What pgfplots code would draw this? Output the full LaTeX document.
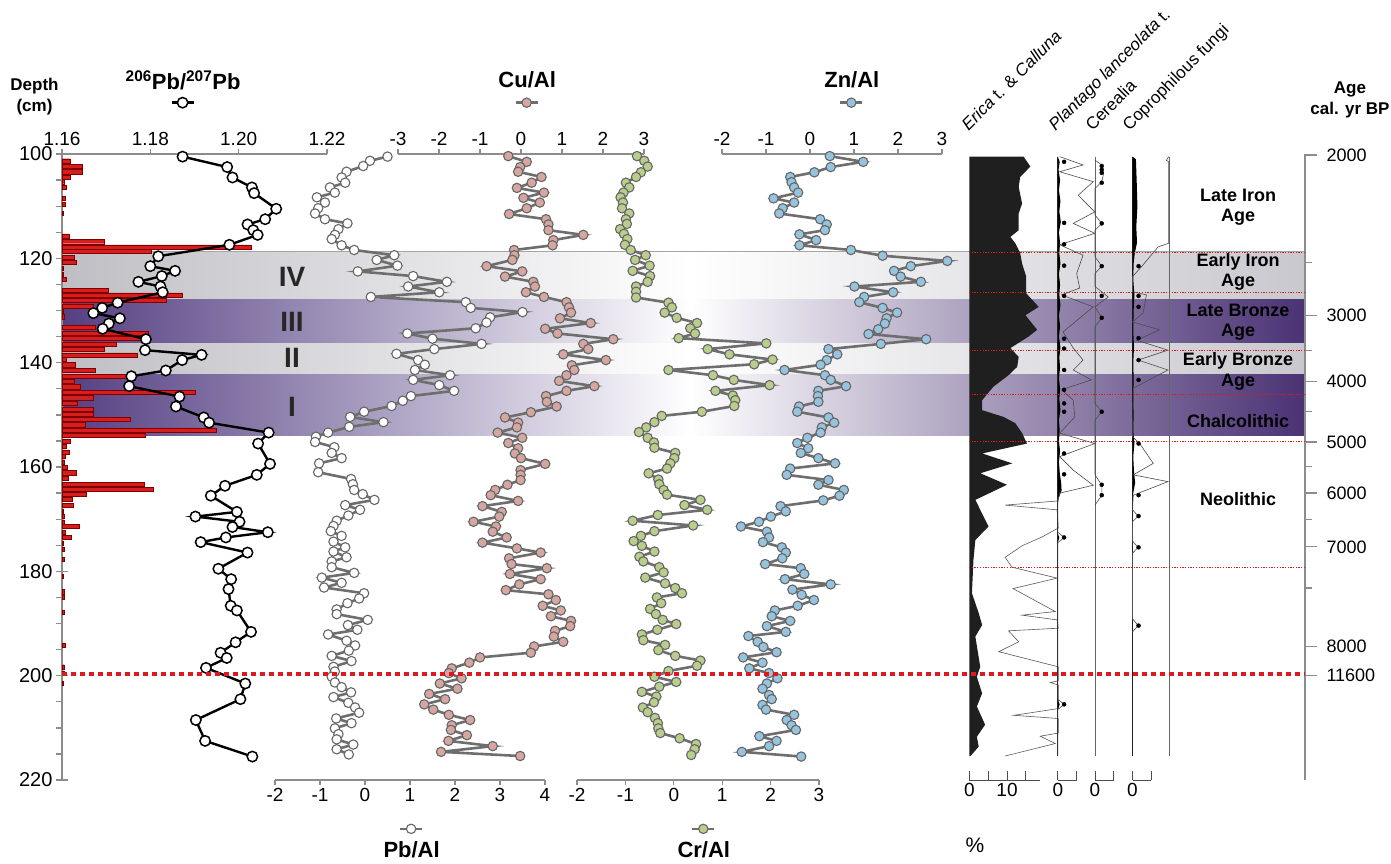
\documentclass[border=0pt]{standalone}
\usepackage{pgfplots}
\pgfplotsset{compat=1.18}
\usepackage{fontspec}
\setmainfont{Liberation Sans}
\definecolor{pur}{RGB}{84,63,130}
\definecolor{purR}{RGB}{74,50,116}
\definecolor{gryL}{RGB}{190,190,196}
\definecolor{gryR}{RGB}{200,200,206}
\definecolor{axgray}{RGB}{140,140,140}
\definecolor{lngray}{RGB}{110,110,110}
\definecolor{cupink}{RGB}{214,166,160}
\definecolor{crgreen}{RGB}{186,206,140}
\definecolor{znblue}{RGB}{150,196,222}
\definecolor{barred}{RGB}{214,30,30}
\definecolor{dred}{RGB}{222,25,30}
\tikzset{ttl/.style={font=\fontsize{22}{26}\selectfont\bfseries}}
\pgfplotsset{
 legend image code/.code={\draw[mark repeat=2,mark phase=2,#1] plot coordinates {(0pt,0pt) (11pt,0pt) (22pt,0pt)};},
 base/.style={scale only axis, ymin=100, ymax=220, y dir=reverse, height=626pt, clip=false, anchor=north west,
   axis line style={-, axgray, line width=1.5pt}, tick style={axgray, line width=1.3pt}, tick align=outside, major tick length=5pt,
   ticklabel style={font=\fontsize{19}{22}\selectfont, text=black},
   legend style={draw=none, fill=none, inner sep=0pt, outer sep=0pt, anchor=center, nodes={inner sep=0pt, outer sep=0pt}}},
 hidden/.style={base, axis x line=none, axis y line=none},
 series/.style={line width=2.6pt, color=lngray, mark=*, mark size=4.7pt, mark options={line width=1.1pt, draw=black!60, fill=#1}},
 pollen/.style={base, axis x line*=bottom, axis y line=none, tick align=inside, major tick length=9.5pt,
   axis line style={-, black!70, line width=0.8pt}, tick style={black!70, line width=0.8pt}},
}
\begin{document}
\begin{tikzpicture}
\useasboundingbox (0pt,0pt) rectangle (1391pt,-863pt);

% ---------- background bands ----------
\begin{axis}[hidden, at={(62pt,-154pt)}, width=1243pt, xmin=62, xmax=1305]
\path[left color=gryL, right color=white] (axis cs:62,118.7) rectangle (axis cs:690.5,127.85);
\path[left color=white, right color=gryR] (axis cs:690,118.7) rectangle (axis cs:1305,127.85);
\path[left color=pur, right color=white] (axis cs:62,127.85) rectangle (axis cs:690.5,136.4);
\path[left color=white, right color=purR] (axis cs:690,127.85) rectangle (axis cs:1305,136.4);
\path[left color=gryL, right color=white] (axis cs:62,136.4) rectangle (axis cs:690.5,142.2);
\path[left color=white, right color=gryR] (axis cs:690,136.4) rectangle (axis cs:1305,142.2);
\path[left color=pur, right color=white] (axis cs:62,142.2) rectangle (axis cs:690.5,153.9);
\path[left color=white, right color=purR] (axis cs:690,142.2) rectangle (axis cs:1305,153.9);
\draw[black!35, line width=0.8pt] (axis cs:62,118.7) -- (axis cs:1305,118.7);
\node[font=\fontsize{28}{30}\selectfont\bfseries, text=black!85] at (axis cs:292,123.6) {IV};
\node[font=\fontsize{28}{30}\selectfont\bfseries, text=black!85] at (axis cs:292,132.1) {III};
\node[font=\fontsize{28}{30}\selectfont\bfseries, text=black!85] at (axis cs:292,139.1) {II};
\node[font=\fontsize{28}{30}\selectfont\bfseries, text=black!85] at (axis cs:292,148.4) {I};
\end{axis}

% ---------- depth axis ----------
\begin{axis}[base, at={(62pt,-154pt)}, width=265pt, xmin=0, xmax=1, axis x line=none, axis y line*=left,
  y axis line style={line width=2.2pt}, ytick={100,120,140,160,180,200,220}, yticklabels={100,120,140,160,180,200,220},
  minor ytick={105,110,115,125,130,135,145,150,155,165,170,175,185,190,195,205,210,215},
  tick align=center, major tick length=12pt, minor tick length=6pt, minor tick style={xshift=-3pt},
  yticklabel style={font=\fontsize{20}{23}\selectfont}]
\end{axis}

% ---------- red bars ----------
\begin{axis}[hidden, at={(62pt,-154pt)}, width=265pt, xmin=0, xmax=265]
\addplot[xbar, bar width=0.8, fill=barred, draw=red!50!black, line width=0.4pt] coordinates {
(8,101.3) (20,102.4) (20,103.4) (8,104.4) (2,105.3) (4,106.4) (3,108.5) (3,109.6) (1,111.3)
(7,115.7) (42,116.8) (189,117.8) (89,118.7) (12,119.8) (14,120.8) (1,121.9) (1,123.0) (4,124.0)
(46,126.1) (120,127.0) (104,128.1) (31,129.1) (1,130.1) (2,131.2) (33,133.2) (86,134.3) (79,135.3)
(54,136.4) (42,137.4) (75,138.5) (4,139.4) (13,140.4) (33,141.5) (66,142.6) (12,143.6) (18,144.6)
(133,145.7) (31,146.7) (15,147.8) (31,148.9) (31,149.8) (68,150.9) (23,151.9) (154,152.9) (83,153.9)
(8,155.0) (4,156.0) (7,157.1) (3,158.0) (2,159.0) (5,160.1) (14,161.1) (6,162.2) (82,163.3) (91,164.3)
(24,165.2) (10,166.2) (11,167.3) (1,168.4) (2,169.4) (2,170.5) (17,171.4) (3,172.5) (9,173.5) (1,174.6)
(2,175.7) (2,177.7) (1,180.9) (2,183.9) (2,184.9) (2,187.9) (3,194.1) (2,198.3) (2,199.5) (1,201.5)};
\end{axis}

% ---------- 206Pb/207Pb ----------
\begin{axis}[base, at={(62pt,-154pt)}, width=265pt, xmin=1.16, xmax=1.22, axis x line*=top, axis y line=none,
  xtick={1.16,1.18,1.20,1.22}, xticklabels={1.16,1.18,1.20,1.22}, legend style={at={(0.457,1.082)}}]
\addplot[black, line width=2.4pt, mark=*, mark size=5.2pt, mark options={fill=white, draw=black, line width=1.5pt}] coordinates {
(1.1873,100.5) (1.1974,102.5) (1.1986,104.5) (1.2030,106.4) (1.2035,107.5) (1.2085,110.5) (1.2060,112.5) (1.2020,113.5)
(1.2033,114.6) (1.2043,115.5) (1.1979,117.4) (1.1818,119.6) (1.1800,121.5) (1.1856,122.4) (1.1826,123.4) (1.1773,124.5)
(1.1823,125.4) (1.1828,126.5) (1.1726,128.5) (1.1691,129.5) (1.1671,130.5) (1.1731,131.5) (1.1706,132.5) (1.1692,133.5)
(1.1790,135.5) (1.1788,137.6) (1.1916,138.5) (1.1872,139.5) (1.1835,141.5) (1.1757,142.6) (1.1752,144.5) (1.1866,146.5)
(1.1858,148.4) (1.1921,150.5) (1.1933,151.5) (1.2068,153.4) (1.2044,155.5) (1.2071,159.4) (1.2041,161.5) (1.1969,163.6)
(1.1937,165.5) (1.1996,168.6) (1.1902,169.5) (1.2002,170.5) (1.1986,171.5) (1.2066,172.5) (1.1971,173.5) (1.1914,174.4)
(1.2020,176.4) (1.1954,179.5) (1.1983,181.5) (1.1977,183.4) (1.1982,186.6) (1.1996,187.5) (1.2028,191.6) (1.1993,193.6)
(1.1959,195.6) (1.1973,196.6) (1.1926,198.5) (1.2015,201.5) (1.2004,204.5) (1.1903,208.5) (1.1924,212.5) (1.2031,215.5)};
\addlegendentry{\mbox{}}
\node[ttl] at (axis description cs:0.457,1.118) {\textsuperscript{206}Pb/\textsuperscript{207}Pb};
\end{axis}

% ---------- Pb/Al ----------
\begin{axis}[base, at={(275pt,-154pt)}, width=270pt, xmin=-2, xmax=4, axis x line*=bottom, axis y line=none,
  xtick={-2,-1,0,1,2,3,4}, xticklabels={-2,-1,0,1,2,3,4}, legend style={at={(0.506,-0.078)}}]
\addplot[series=white] coordinates {
(0.50,100.5) (0.11,101.3) (-0.04,102.3) (-0.41,103.4) (-0.52,104.5) (-0.44,105.5) (-0.78,106.4) (-0.67,107.4) (-1.07,108.3)
(-0.89,109.3) (-1.04,110.4) (-1.11,111.4) (-0.89,112.5) (-0.39,113.3) (-0.59,114.4) (-0.67,115.5) (-0.74,116.3) (-0.52,117.5)
(-0.24,118.4) (0.65,119.4) (0.26,120.3) (0.72,121.4) (-0.16,122.5) (1.07,123.4) (1.82,124.5) (0.96,125.4) (1.65,126.5)
(0.13,127.4) (2.24,128.4) (2.35,129.5) (3.50,130.3) (2.78,131.3) (2.70,132.3) (2.46,133.4) (0.94,134.4) (1.50,135.4)
(2.59,136.4) (1.54,137.4) (0.70,138.3) (1.18,139.5) (1.33,140.4) (1.11,141.4) (1.89,142.4) (1.07,143.3) (1.65,144.3)
(1.98,145.4) (1.02,146.4) (0.84,147.3) (0.59,148.3) (-0.02,149.4) (-0.33,150.4) (0.41,151.4) (-0.35,152.3) (-0.82,153.4)
(-1.09,154.2) (-1.11,155.2) (-0.68,156.2) (-0.74,157.3) (-0.52,158.3) (-1.02,159.3) (-1.04,161.0) (-0.31,162.3) (-0.27,163.3)
(-0.24,164.4) (-0.05,165.2) (0.21,166.3) (-0.44,167.3) (-0.11,168.2) (-0.37,169.3) (-0.63,170.3) (-0.70,171.3) (-0.76,172.3)
(-0.52,173.2) (-0.70,174.3) (-0.44,175.4) (-0.70,176.2) (-0.41,177.3) (-0.74,178.1) (-0.74,179.2) (-0.24,180.3) (-0.96,181.2)
(-0.52,182.2) (-0.91,183.1) (-0.02,184.2) (-0.13,185.2) (-0.39,186.1) (-0.63,187.3) (-0.63,188.2) (0.06,189.3) (-0.38,190.3)
(-0.17,191.2) (-0.82,192.1) (-0.41,193.3) (-0.22,194.2) (-0.36,195.2) (-0.74,196.2) (-0.30,197.2) (-0.70,198.3) (-0.67,199.2)
(-0.74,200.2) (-0.67,201.3) (-0.52,202.2) (-0.31,203.2) (-0.70,204.1) (-0.37,205.2) (-0.22,206.1) (-0.13,207.1) (-0.64,208.2)
(-0.30,209.1) (-0.67,210.1) (-0.59,211.2) (-0.63,212.2) (-0.26,213.2) (-0.63,214.1) (-0.36,215.1)};
\addlegendentry{\mbox{}}
\node[ttl] at (axis description cs:0.506,-0.111) {Pb/Al};
\end{axis}

% ---------- Cu/Al ----------
\begin{axis}[base, at={(398pt,-154pt)}, width=246pt, xmin=-3, xmax=3, axis x line*=top, axis y line=none,
  xtick={-3,-2,-1,0,1,2,3}, xticklabels={-3,-2,-1,0,1,2,3}, legend style={at={(0.525,1.082)}}]
\addplot[series=cupink] coordinates {
(-0.31,100.4) (0.14,101.5) (-0.02,102.5) (-0.07,103.4) (0.50,104.4) (0.26,105.5) (-0.10,106.5) (0.56,107.4) (0.06,108.4)
(0.46,109.3) (0.14,110.4) (-0.29,111.5) (0.61,112.5) (0.67,113.5) (0.67,114.6) (1.52,115.5) (0.79,116.5) (0.77,117.5)
(-0.17,118.4) (-0.16,119.4) (-0.21,120.3) (-0.84,121.5) (0.03,122.5) (-0.39,123.5) (0.30,124.5) (0.34,125.4) (0.12,126.5)
(0.56,127.4) (1.11,128.4) (1.17,129.4) (1.22,130.4) (0.95,131.5) (1.70,132.4) (0.59,133.5) (0.89,134.4) (2.25,135.5)
(1.52,136.4) (1.64,137.4) (1.03,138.4) (2.07,139.5) (1.24,140.5) (1.30,141.4) (1.11,142.4) (0.93,143.5) (1.79,144.5)
(1.11,145.4) (0.61,146.4) (0.63,147.5) (0.87,148.4) (0.24,149.5) (-0.39,150.5) (-0.07,151.5) (-0.10,152.4) (-0.57,153.4)
(0.03,154.4) (-0.31,155.4) (-0.07,156.4) (-0.15,157.4) (0.00,158.3) (0.59,159.4) (-0.01,160.6) (-0.01,161.5) (-0.01,162.5)
(-0.33,163.4) (-0.63,164.4) (-0.74,165.4) (-0.07,166.5) (-0.94,167.5) (-0.47,168.6) (-0.53,169.5) (-1.16,170.5) (-0.61,171.4)
(-0.69,172.4) (-0.35,173.5) (-0.94,174.5) (-0.10,175.6) (0.48,176.4) (-0.29,177.5) (-0.23,178.6) (0.63,179.4) (-0.27,180.5)
(0.48,181.5) (-0.04,182.5) (-0.37,183.6) (0.67,184.4) (0.85,185.5) (0.53,186.6) (0.97,187.5) (0.73,188.6) (1.22,189.5)
(1.20,190.5) (0.83,191.4) (0.80,192.5) (1.03,193.5) (0.32,194.4) (0.24,195.6) (-1.00,196.5) (-1.26,197.5) (-1.69,198.6)
(-1.76,199.5) (-1.45,200.5) (-1.98,201.5) (-1.55,202.5) (-2.24,203.5) (-1.85,204.5) (-2.36,205.5) (-2.14,206.5) (-1.76,207.5)
(-1.24,208.5) (-1.69,209.5) (-1.71,210.4) (-1.32,211.4) (-1.77,212.5) (-0.69,213.5) (-1.95,214.6) (-0.02,215.4)};
\addlegendentry{\mbox{}}
\node[ttl] at (axis description cs:0.525,1.118) {Cu/Al};
\end{axis}

% ---------- Cr/Al ----------
\begin{axis}[base, at={(577pt,-154pt)}, width=242pt, xmin=-2, xmax=3, axis x line*=bottom, axis y line=none,
  xtick={-2,-1,0,1,2,3}, xticklabels={-2,-1,0,1,2,3}, legend style={at={(0.524,-0.078)}}]
\addplot[series=crgreen] coordinates {
(-0.76,100.4) (-0.61,101.3) (-0.54,102.4) (-0.68,103.5) (-0.78,104.4) (-0.99,105.5) (-0.92,106.4) (-1.04,107.4) (-1.10,108.3)
(-1.05,109.3) (-1.07,110.4) (-0.92,111.4) (-0.99,112.5) (-0.97,113.4) (-1.11,114.4) (-1.03,115.3) (-0.96,116.3) (-1.01,117.4)
(-0.89,118.4) (-0.58,119.4) (-0.80,120.3) (-0.50,121.4) (-0.85,122.4) (-0.49,123.4) (-0.54,124.5) (-0.78,125.4) (-0.78,126.4)
(-0.78,127.5) (-0.11,128.5) (-0.04,129.4) (-0.19,130.4) (0.06,131.4) (0.48,132.4) (0.34,133.4) (0.44,134.4) (0.10,135.3)
(1.91,136.3) (0.70,137.4) (1.15,138.4) (2.04,139.4) (1.66,140.3) (-0.11,141.4) (0.81,142.4) (1.24,143.3) (1.98,144.3)
(0.86,145.4) (1.22,146.3) (1.27,147.2) (1.25,148.3) (0.58,149.4) (-0.25,150.2) (-0.40,151.4) (-0.57,152.4) (-0.72,153.3)
(-0.54,154.4) (-0.41,155.3) (-0.40,156.3) (0.03,157.3) (0.01,158.3) (-0.07,159.3) (-0.14,160.3) (-0.52,161.2) (-0.32,162.4)
(-0.30,163.3) (-0.21,164.4) (-0.14,165.3) (0.55,166.3) (0.22,167.3) (0.69,168.2) (-0.33,169.2) (-0.85,170.3) (0.40,171.2)
(-0.40,172.3) (-0.68,173.2) (-0.83,174.2) (-0.66,175.1) (-0.40,176.2) (-0.71,177.2) (-0.63,178.1) (-0.30,179.2) (-0.21,180.2)
(-0.59,181.2) (-0.18,182.3) (0.03,183.2) (0.17,184.2) (-0.35,185.0) (-0.26,186.1) (-0.49,187.2) (-0.37,188.2) (-0.23,189.3)
(0.05,190.1) (-0.34,191.2) (-0.66,192.1) (-0.63,193.2) (-0.18,194.1) (-0.32,195.1) (0.03,196.2) (0.55,197.1) (0.48,198.1)
(-0.11,199.1) (-0.40,200.2) (0.05,201.2) (-0.30,202.1) (-0.66,203.1) (-0.36,204.0) (-0.41,205.1) (-0.64,206.1) (-0.54,207.0)
(-0.39,208.1) (-0.33,209.1) (-0.32,210.1) (-0.28,211.0) (0.12,212.0) (0.46,213.1) (0.43,214.1) (0.36,215.2)};
\addlegendentry{\mbox{}}
\node[ttl] at (axis description cs:0.524,-0.111) {Cr/Al};
\end{axis}

% ---------- Zn/Al ----------
\begin{axis}[base, at={(722pt,-154pt)}, width=220pt, xmin=-2, xmax=3, axis x line*=top, axis y line=none,
  xtick={-2,-1,0,1,2,3}, xticklabels={-2,-1,0,1,2,3}, legend style={at={(0.59,1.082)}}]
\addplot[series=znblue] coordinates {
(0.45,100.4) (1.21,101.5) (0.47,102.5) (0.10,103.5) (-0.45,104.4) (-0.42,105.4) (-0.36,106.4) (-0.27,107.4) (-0.83,108.5)
(-0.36,109.3) (-0.62,110.4) (-0.70,111.4) (0.23,112.5) (0.38,113.5) (0.34,114.6) (-0.24,115.4) (0.14,116.5) (-0.24,117.5)
(0.93,118.4) (1.65,119.5) (3.12,120.5) (2.29,121.5) (1.91,122.4) (2.06,123.5) (2.52,124.5) (1.01,125.4) (1.89,126.5)
(1.23,127.4) (1.12,128.4) (1.65,129.5) (1.98,130.4) (1.74,131.5) (1.70,132.5) (1.55,133.6) (1.33,134.5) (2.64,135.5)
(1.61,136.4) (0.42,137.4) (0.62,138.4) (0.38,139.5) (0.24,140.4) (-0.58,141.4) (0.34,142.4) (0.47,143.3) (0.82,144.5)
(0.19,145.4) (0.18,146.4) (0.19,147.5) (-0.25,148.4) (-0.29,149.4) (0.42,150.5) (0.55,151.5) (0.27,152.4) (0.24,153.4)
(-0.06,154.4) (-0.29,155.4) (-0.04,156.4) (-0.21,157.3) (0.19,158.3) (0.57,159.3) (-0.45,160.3) (-0.53,161.5) (0.42,162.5)
(0.19,163.4) (0.77,164.4) (0.67,165.5) (0.30,166.4) (-0.67,167.5) (-0.55,168.5) (-0.89,169.5) (-1.16,170.5) (-1.57,171.4)
(-0.98,172.4) (-0.93,173.5) (-1.07,174.4) (-0.64,175.4) (-0.55,176.4) (-0.63,177.5) (-1.02,178.6) (-0.21,179.4) (-0.13,180.5)
(-0.57,181.5) (0.47,182.5) (-0.40,183.5) (-0.19,184.5) (0.09,185.5) (-0.28,186.6) (-0.80,187.5) (-0.87,188.6) (-0.45,189.5)
(-0.98,190.5) (-0.55,191.6) (-1.40,192.4) (-1.19,193.5) (-1.06,194.5) (-0.76,195.5) (-1.52,196.5) (-1.08,197.5) (-1.38,198.6)
(-0.93,199.5) (-0.74,200.5) (-0.98,201.5) (-1.08,202.5) (-0.93,203.7) (-0.87,204.5) (-1.08,205.6) (-1.00,206.5) (-0.36,207.5)
(-0.53,208.5) (-0.42,209.5) (-0.32,210.4) (-1.15,211.6) (-0.76,212.5) (-0.93,213.5) (-1.55,214.6) (-0.20,215.5)};
\addlegendentry{\mbox{}}
\node[ttl] at (axis description cs:0.59,1.118) {Zn/Al};
\end{axis}

% ---------- Erica t. & Calluna ----------
\begin{axis}[pollen, at={(969.3pt,-154pt)}, width=70.3pt, xmin=0, xmax=18.65, xtick={0,5,10,15}, xticklabels={0,,10,}]
\addplot[fill=black!88, draw=none] coordinates {
(0,100.5) (14.4,100.5) (16.2,102.4) (13.5,104.4) (13.1,106.3) (14.0,109.5) (13.1,111.4) (13.1,114.6) (10.9,115.9)
(12.2,117.1) (13.5,119.0) (14.0,121.0) (15.1,123.5) (15.1,126.7) (18.4,129.3) (14.9,130.9) (18.0,133.7) (15.7,135.0)
(10.9,137.2) (13.1,138.9) (12.7,140.8) (10.4,142.4) (6.4,144.6) (3.4,147.2) (3.4,149.1) (9.1,150.4) (12.2,151.6)
(14.0,153.5) (15.3,155.5) (3.4,157.4) (11.4,159.3) (2.9,161.2) (10.0,163.4) (1.6,166.3) (5.1,171.4) (1.6,174.0)
(1.1,177.8) (0.7,184.2) (2.5,188.0) (3.4,190.3) (1.6,192.5) (2.9,198.3) (2.0,200.2) (3.4,203.4) (2.0,205.9)
(4.2,209.4) (2.0,211.7) (2.5,213.6) (0.3,215.4) (0,215.4)};
\addplot[black!65, line width=0.6pt] coordinates {
(23.6,166.5) (9.5,167.3) (23.3,168.2) (23.6,171.7) (19.3,173.4) (14.0,175.1) (9.5,177.3) (11.3,179.2) (23.3,181.3)
(11.6,183.3) (22.8,187.7) (14.0,188.4) (23.3,189.3) (23.6,190.9) (10.4,191.4) (13.1,193.5) (7.8,195.4) (23.6,198.3)
(23.6,201.0) (21.5,201.3) (23.6,201.8) (23.6,206.3) (11.8,207.6) (23.6,208.2) (23.6,211.0) (18.8,211.6) (22.8,213.0) (9.5,215.4)};
\end{axis}

% ---------- Plantago ----------
\begin{axis}[pollen, at={(1057.8pt,-154pt)}, width=18.85pt, xmin=0, xmax=5, xtick={0,5}, xticklabels={0,}]
\draw[black!85, line width=0.9pt] (axis cs:0,100.5) -- (axis cs:0,215.4);
\addplot[fill=black, draw=none] coordinates {
(0,100.5) (0.5,101.5) (0.2,103) (0.6,105) (0.3,107) (0.7,109) (0.4,111) (0.8,113) (0.3,115) (0.6,117) (0.4,119)
(0.7,121) (0.3,123) (0.6,125) (0.4,127) (0.7,129) (0.3,131) (0.6,133) (0.3,135) (0.7,137) (0.4,139) (0.6,141)
(0.3,143) (0.6,145) (0.4,147) (0.7,149) (0.3,151) (0.5,153) (0.3,155) (0.6,157) (0.3,159) (0.5,161) (0.9,163.2)
(1.0,164.5) (0.2,166) (0,167) (0,172.8) (0.4,173.5) (0,174.5) (0,204.6) (0.5,205.5) (0,206.5) (0,215.4)};
\addplot[black!70, line width=0.6pt] coordinates {
(0.5,100.5) (6.7,102.1) (0.5,103.4) (9.4,105.3) (5.4,107.9) (9.8,111.1) (4.1,113.3) (9.8,115.2) (0.5,117.4) (6.7,119.4)
(5.0,122.9) (5.8,125.7) (1.0,127.0) (9.4,129.3) (1.4,134.1) (4.1,137.2) (6.7,139.5) (4.1,141.4) (8.9,143.3) (1.0,145.2)
(4.1,147.2) (4.5,150.4) (0.5,153.5) (9.8,155.5) (0.5,158.0) (4.1,160.6) (9.4,163.5) (0.5,165.0) (0,166.5)
(0,172.5) (1.7,173.5) (0,174.5) (0,204.5) (1.7,205.5) (0,206.5) (0,215.4)};
\addplot[only marks, mark=*, mark size=2pt, black] coordinates {
(1.67,101.5) (1.67,113.2) (1.67,117.3) (1.67,121.4) (1.67,127.2) (1.67,135.4) (1.67,137.3) (1.67,141.4) (1.67,145.2)
(1.67,147.8) (1.67,149.4) (1.67,157.4) (1.67,161.4) (1.67,173.5) (1.67,205.5)};
\end{axis}

% ---------- Cerealia ----------
\begin{axis}[pollen, at={(1095pt,-154pt)}, width=18.85pt, xmin=0, xmax=5, xtick={0,5}, xticklabels={0,}]
\draw[black!60, line width=0.7pt] (axis cs:0,100.5) -- (axis cs:0,215.4);
\addplot[black!70, line width=0.6pt] coordinates {
(0,101.2) (1.8,102.1) (2.2,104.0) (1.8,105.3) (0,106.6) (0,111.7) (1.8,113.3) (0,114.6) (0,119.7) (1.8,121.5) (0,122.9)
(0,125.4) (3.5,127.4) (0,129.3) (1.8,131.4) (0,133.1) (0,147.8) (1.8,149.4) (0,151.0) (0,161.5) (1.8,163.5) (1.8,165.4)
(0,167.3)};
\addplot[only marks, mark=*, mark size=2pt, black] coordinates {
(1.78,102.3) (1.78,103.0) (1.78,103.6) (1.78,105.5) (1.78,113.3) (1.78,121.5) (1.78,127.2) (1.78,131.4) (1.78,149.4)
(1.78,163.4) (1.78,165.4)};
\end{axis}

% ---------- Coprophilous fungi ----------
\begin{axis}[pollen, at={(1132.5pt,-154pt)}, width=18.85pt, xmin=0, xmax=5, xtick={0,5}, xticklabels={0,}]
\draw[black!85, line width=0.9pt] (axis cs:0,100.5) -- (axis cs:0,215.4);
\draw[black!60, line width=0.7pt] (axis cs:9.8,100.5) -- (axis cs:9.8,215.4);
\addplot[fill=black, draw=none] coordinates {
(0,100.5) (0.9,101) (1.1,105) (1.3,110) (1.0,114) (1.2,117) (0.6,119) (0.3,121) (0.2,124) (0.5,127) (0.3,130)
(0.2,134) (0.4,137) (0.2,140) (0.3,143) (0.2,147) (0.3,150) (0.2,153) (0.5,155.5) (0.2,158) (0.4,161) (0.7,163)
(0.2,165) (0,167) (0,215.4)};
\addplot[black!70, line width=0.6pt] coordinates {
(9.6,100.5) (9.0,101.2) (9.6,101.5) (9.6,117.1) (6.8,117.8) (2.5,121.5) (0,123.5) (0,126.4) (3.7,127.0) (2.8,130.5)
(0,132.2) (7.2,133.7) (1.1,135.7) (9.4,137.6) (1.5,139.5) (9.4,141.4) (0.2,144.9) (0,154.2) (1.9,155.5) (5.5,159.3)
(0.2,161.5) (9.4,162.8) (0.2,165.4) (0,168.2) (1.5,169.4) (0,170.5) (0,174.2) (1.5,175.4) (0,176.5) (0,189.1)
(1.5,190.4) (0,191.6)};
\addplot[only marks, mark=*, mark size=2pt, black] coordinates {
(1.6,121.5) (1.6,127.2) (1.6,129.3) (1.6,135.3) (1.6,139.5) (1.6,143.3) (1.6,155.5) (1.6,165.4) (1.6,169.4)
(1.6,175.4) (1.6,190.4)};
\end{axis}

% ---------- age axis ----------
\begin{axis}[base, at={(1304pt,-154pt)}, width=1pt, xmin=0, xmax=1, axis x line=none, axis y line*=right,
  y axis line style={line width=2pt},
  ytick={100.2,130.9,143.6,155.2,165.0,175.3,194.4,200.0},
  yticklabels={2000,3000,4000,5000,6000,7000,8000,11600},
  minor ytick={120.8,137.7,149.4,159.9,170.0,183.2},
  major tick length=12pt, minor tick length=7pt,
  yticklabel style={xshift=6pt, font=\fontsize{18}{21}\selectfont}]
\end{axis}

% ---------- overlay: lines and period labels ----------
\begin{axis}[hidden, at={(62pt,-154pt)}, width=1243pt, xmin=62, xmax=1305]
\foreach \d in {118.9,126.6,137.7,146.1,155.1,179.2} {
  \edef\temp{\noexpand\draw[dred, line width=1.3pt, dash pattern=on 1.3pt off 1.4pt] (axis cs:969,\d) -- (axis cs:1305,\d);}
  \temp
}
\draw[dred, line width=3.8pt, dash pattern=on 5pt off 4pt] (axis cs:62,199.7) -- (axis cs:1305,199.7);
\node[font=\fontsize{18}{20.5}\selectfont\bfseries, align=center] at (axis cs:1238,110.2) {Late Iron\\Age};
\node[font=\fontsize{18}{20.5}\selectfont\bfseries, align=center] at (axis cs:1238,122.6) {Early Iron\\Age};
\node[font=\fontsize{18}{20.5}\selectfont\bfseries, align=center] at (axis cs:1238,132.2) {Late Bronze\\Age};
\node[font=\fontsize{18}{20.5}\selectfont\bfseries, align=center] at (axis cs:1238,141.7) {Early Bronze\\Age};
\node[font=\fontsize{18}{20.5}\selectfont\bfseries, align=center] at (axis cs:1238,151.2) {Chalcolithic};
\node[font=\fontsize{18}{20.5}\selectfont\bfseries, align=center] at (axis cs:1238,166.1) {Neolithic};
\end{axis}

% ---------- free labels ----------
\node[font=\fontsize{17}{21}\selectfont\bfseries, align=center] at (34.5pt,-97pt) {Depth\\(cm)};
\node[font=\fontsize{17}{21}\selectfont\bfseries, align=center] at (1350pt,-100pt) {Age\\cal. yr BP};
\node[rotate=45, anchor=base west, font=\fontsize{17}{20}\selectfont] at (966pt,-134pt) {\textit{Erica} t. \& \textit{Calluna}};
\node[rotate=45, anchor=base west, font=\fontsize{17}{20}\selectfont] at (1053pt,-134pt) {\textit{Plantago lanceolata} t.};
\node[rotate=45, anchor=base west, font=\fontsize{17}{20}\selectfont] at (1090pt,-134pt) {Cerealia};
\node[rotate=45, anchor=base west, font=\fontsize{17}{20}\selectfont] at (1127pt,-134pt) {Coprophilous fungi};
\node[font=\fontsize{21}{24}\selectfont] at (975pt,-845pt) {\%};
\end{tikzpicture}
\end{document}
